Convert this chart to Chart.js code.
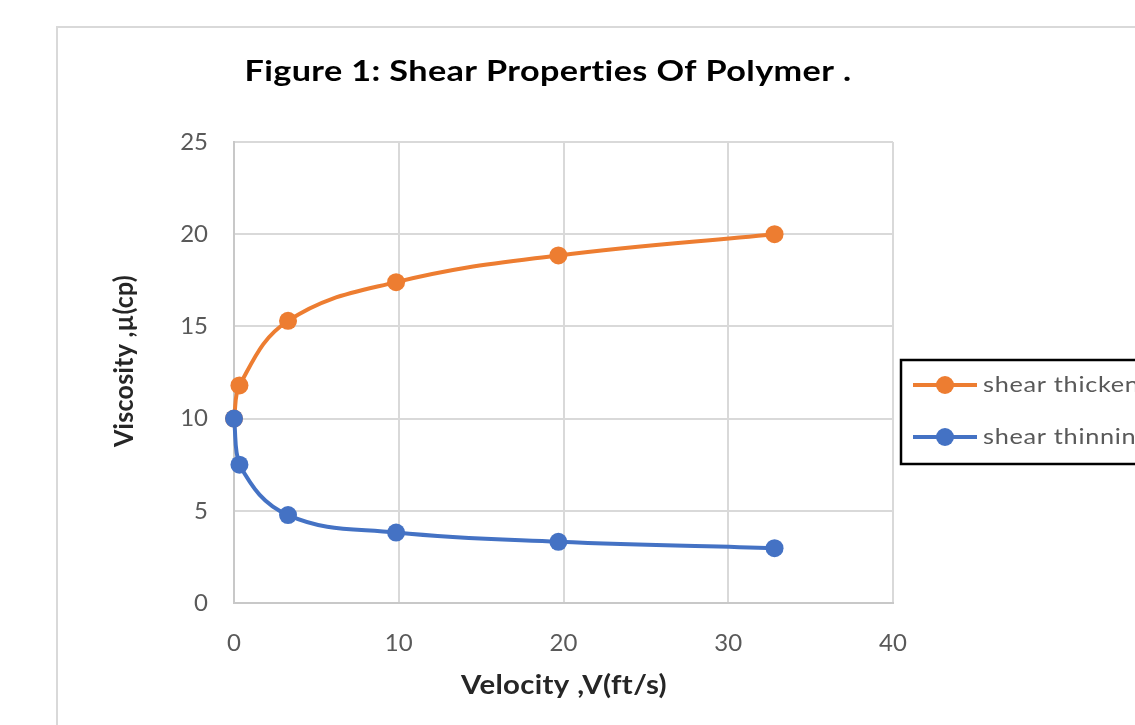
<!DOCTYPE html>
<html><head><meta charset="utf-8">
<script src="https://cdn.jsdelivr.net/npm/chart.js@4"></script>
<style>html,body{margin:0;padding:0;background:#fff;overflow:hidden}</style>
</head><body>
<canvas id="c" width="1135" height="725" style="display:block;width:1135px;height:725px"></canvas>
<script>
const chartTitle = "Figure 1: Shear Properties Of Polymer .";
const xAxisTitle = "Velocity ,V(ft/s)";
const yAxisTitle = "Viscosity ,µ(cp)";
const seriesNames = ["shear thickening", "shear thinning"];
const velocity = [0, 0.33, 3.28, 9.84, 19.69, 32.81];
const thickening = [10, 11.8, 15.3, 17.4, 18.85, 20.0];
const thinning = [10, 7.5, 4.77, 3.82, 3.32, 2.97];
const xTicks = [0, 10, 20, 30, 40];
const yTicks = [0, 5, 10, 15, 20, 25];
const colors = ["#ED7D31", "#4472C4"];

const toPts = ys => velocity.map((x, i) => ({x: x, y: ys[i]}));

// draw text centred at (x, y), stretched horizontally to the given width
function fitText(ctx, text, x, y, font, width) {
  ctx.save();
  ctx.font = font;
  ctx.letterSpacing = '0.3px';
  const w = ctx.measureText(text).width;
  ctx.translate(x, y);
  ctx.scale(width / w, 1);
  ctx.textAlign = 'center';
  ctx.textBaseline = 'middle';
  ctx.fillText(text, 0, 0);
  ctx.restore();
}

const decor = {
  id: 'decor',
  beforeDraw(chart) {
    const ctx = chart.ctx;
    ctx.save();
    ctx.fillStyle = '#fff';
    ctx.fillRect(0, 0, chart.width, chart.height);
    ctx.strokeStyle = '#d9d9d9';
    ctx.lineWidth = 2;
    ctx.strokeRect(57, 27, 1300, 900);
    ctx.fillStyle = '#000';
    fitText(ctx, chartTitle, 548, 72, 'bold 28px Lato', 607);
    ctx.fillStyle = '#262626';
    fitText(ctx, xAxisTitle, 564, 686, 'bold 26px Lato', 206);
    ctx.translate(125, 361);
    ctx.rotate(-Math.PI / 2);
    fitText(ctx, yAxisTitle, 0, 0, 'bold 26px Lato', 172);
    ctx.restore();
  },
  afterDraw(chart) {
    const ctx = chart.ctx;
    ctx.save();
    ctx.fillStyle = '#fff';
    ctx.fillRect(901, 360, 400, 104);
    ctx.strokeStyle = '#000';
    ctx.lineWidth = 2.5;
    ctx.strokeRect(901, 360, 400, 104);
    const ys = [385, 437];
    chart.data.datasets.forEach((ds, i) => {
      const y = ys[i];
      ctx.strokeStyle = ds.borderColor;
      ctx.lineWidth = 4;
      ctx.beginPath(); ctx.moveTo(913, y); ctx.lineTo(977, y); ctx.stroke();
      ctx.fillStyle = ds.backgroundColor;
      ctx.beginPath(); ctx.arc(945, y, 9, 0, Math.PI * 2); ctx.fill();
      ctx.save();
      ctx.fillStyle = '#595959';
      ctx.font = '22px Lato';
      ctx.letterSpacing = '0.6px';
      ctx.textAlign = 'left';
      ctx.textBaseline = 'middle';
      ctx.translate(983, y);
      ctx.scale(1.15, 1);
      ctx.fillText(ds.label, 0, 0);
      ctx.restore();
    });
    ctx.restore();
  }
};

new Chart(document.getElementById('c'), {
  type: 'scatter',
  data: {
    datasets: [
      {label: seriesNames[0], data: toPts(thickening), borderColor: colors[0], backgroundColor: colors[0], order: 2},
      {label: seriesNames[1], data: toPts(thinning), borderColor: colors[1], backgroundColor: colors[1], order: 1}
    ].map(d => Object.assign(d, {showLine: true, tension: 0.4, borderWidth: 4, pointRadius: 9, pointHoverRadius: 9, pointBorderWidth: 0, clip: false}))
  },
  options: {
    responsive: false,
    devicePixelRatio: 1,
    animation: false,
    events: [],
    layout: {padding: {left: 0, right: 242, top: 142, bottom: 0}},
    plugins: {legend: {display: false}, title: {display: false}, tooltip: {enabled: false}},
    scales: {
      x: {
        type: 'linear', min: 0, max: 40,
        afterBuildTicks: s => { s.ticks = xTicks.map(v => ({value: v})); },
        afterFit: s => { s.height = 122; },
        grid: {color: '#d9d9d9', lineWidth: 2, drawTicks: false},
        border: {color: '#c8c8c8', width: 2},
        ticks: {color: '#595959', font: {family: 'Lato', size: 24}, padding: 26, maxRotation: 0}
      },
      y: {
        type: 'linear', min: 0, max: 25,
        afterBuildTicks: s => { s.ticks = yTicks.map(v => ({value: v})); },
        afterFit: s => { s.width = 234; },
        grid: {color: '#d9d9d9', lineWidth: 2, drawTicks: false},
        border: {color: '#c8c8c8', width: 2},
        ticks: {color: '#595959', font: {family: 'Lato', size: 24}, padding: 26}
      }
    }
  },
  plugins: [decor]
});
</script>
</body></html>
